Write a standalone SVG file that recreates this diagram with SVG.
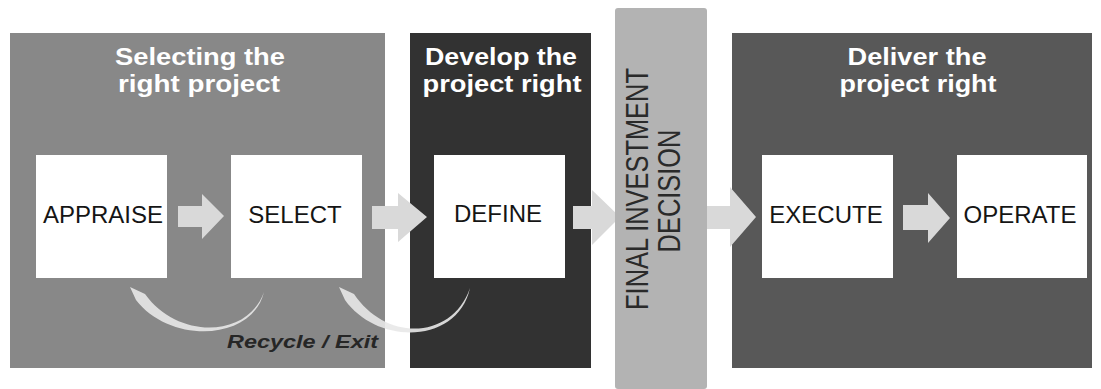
<svg xmlns="http://www.w3.org/2000/svg" width="1101" height="389" viewBox="0 0 1101 389">
<style>
.head{font-family:"Liberation Sans",Arial,sans-serif;font-weight:bold;font-size:23px;fill:#ffffff;text-anchor:middle}
.lbl{font-family:"Liberation Sans",Arial,sans-serif;font-size:24px;fill:#151515;text-anchor:middle}
.box{fill:#ffffff}
.arr{fill:#d9d9d9}
.swoosh{fill:#e8e8e8;opacity:0.9}
.fid{font-family:"Liberation Sans",Arial,sans-serif;font-size:31px;fill:#2a2a2a;text-anchor:middle}
.rec{font-family:"Liberation Sans",Arial,sans-serif;font-weight:bold;font-style:italic;font-size:18px;fill:#262626}
</style>
<rect width="1101" height="389" fill="#ffffff"/>
<g id="panel-select-right">
<rect x="10" y="33" width="375" height="335" fill="#888888"/>
<text class="head" x="200" y="65" textLength="170" lengthAdjust="spacingAndGlyphs">Selecting the</text>
<text class="head" x="199" y="92" textLength="162" lengthAdjust="spacingAndGlyphs">right project</text>
</g>
<g id="panel-develop">
<rect x="410" y="33" width="181" height="335" fill="#323232"/>
<text class="head" x="501" y="65" textLength="152" lengthAdjust="spacingAndGlyphs">Develop the</text>
<text class="head" x="502" y="92" textLength="159" lengthAdjust="spacingAndGlyphs">project right</text>
</g>
<g id="panel-deliver">
<rect x="732" y="33" width="360" height="335" fill="#585858"/>
<text class="head" x="917" y="65" textLength="139" lengthAdjust="spacingAndGlyphs">Deliver the</text>
<text class="head" x="918" y="92" textLength="157" lengthAdjust="spacingAndGlyphs">project right</text>
</g>
<g id="connectors">
<polygon class="arr" points="178,206 202,206 202,194 224,216 202,239 202,227 178,227"/>
<polygon class="arr" points="372,206 398,206 398,193 427,217 398,242 398,229 372,229"/>
<polygon class="arr" fill="#cfcfcf" points="573,206 592,206 592,190 620,217 592,245 592,229 573,229"/>
<polygon class="arr" fill="#cfcfcf" points="707,206 730,206 730,187 756,217 730,247 730,229 707,229"/>
<polygon class="arr" points="903,205 928,205 928,193 950,218 928,243 928,230 903,230"/>
<path class="swoosh" d="M264,292 C252,342 170,344 136,300 L130,287 L145,294 C178,340 248,338 264,292 Z"/>
<path class="swoosh" d="M470,288 C458,344 378,346 345,300 L339,287 L354,294 C386,342 452,340 470,288 Z"/>
</g>
<g id="node-fid">
<rect x="615" y="8" width="92" height="381" rx="3" fill="#b3b3b3"/>
<text class="fid" transform="translate(648,189) rotate(-90) scale(0.82,1)">FINAL INVESTMENT</text>
<text class="fid" transform="translate(680,191) rotate(-90) scale(0.82,1)">DECISION</text>
</g>
<g id="node-appraise">
<rect class="box" x="36" y="155" width="131" height="123"/>
<text class="lbl" x="103" y="223">APPRAISE</text>
</g>
<g id="node-select">
<rect class="box" x="231" y="155" width="131" height="123"/>
<text class="lbl" x="295" y="223">SELECT</text>
</g>
<g id="node-define">
<rect class="box" x="434" y="155" width="131" height="123"/>
<text class="lbl" x="498" y="222">DEFINE</text>
</g>
<g id="node-execute">
<rect class="box" x="762" y="155" width="131" height="123"/>
<text class="lbl" x="826" y="223">EXECUTE</text>
</g>
<g id="node-operate">
<rect class="box" x="957" y="155" width="130" height="123"/>
<text class="lbl" x="1020" y="223">OPERATE</text>
</g>
<text class="rec" x="227" y="348" textLength="151" lengthAdjust="spacingAndGlyphs">Recycle / Exit</text>
</svg>
